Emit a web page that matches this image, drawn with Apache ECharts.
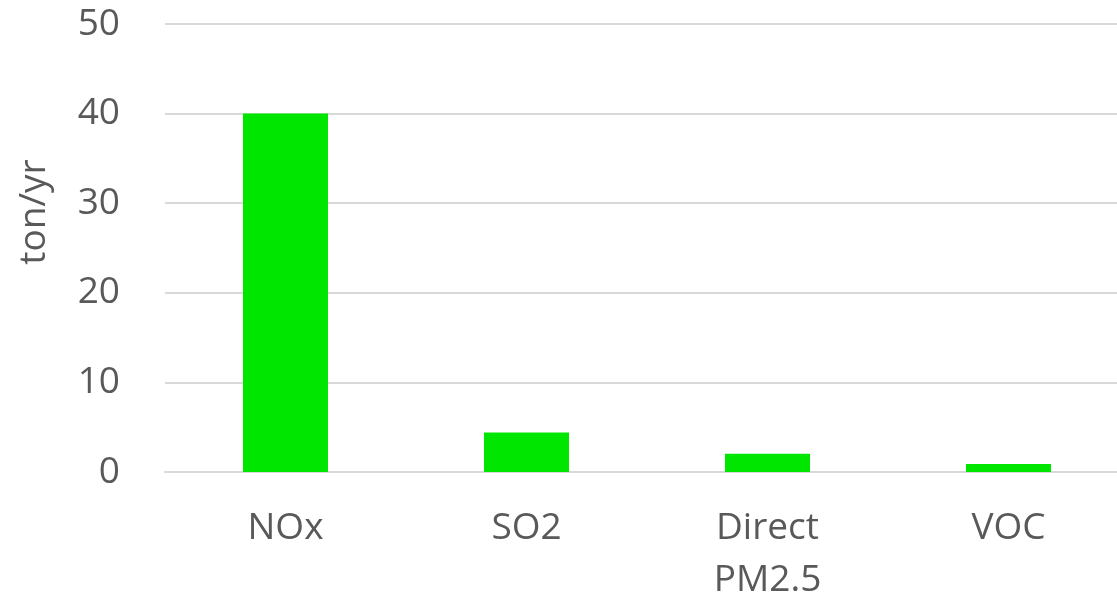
<!DOCTYPE html>
<html>
<head>
  <meta charset="UTF-8">
  <title>emissions</title>
  <style>
    html, body { margin: 0; padding: 0; background: #fff; overflow: hidden; }
    /* chart is a bit wider than the window: the last category band runs past the right edge */
    #chart { width: 1130px; height: 607px; }
  </style>
  <script src="https://cdn.jsdelivr.net/npm/echarts@6/dist/echarts.min.js"></script>
</head>
<body>
<div id="chart"></div>
<script type="text/javascript">
  const categories = ['NOx', 'SO2', 'Direct\nPM2.5', 'VOC'];
  const values = [40, 4.4, 2.05, 0.9];
  const yTicks = { min: 0, max: 50, interval: 10 };

  const textColor = '#595959';
  const font = 'Open Sans';

  const chart = echarts.init(document.getElementById('chart'));
  chart.setOption({
    animation: false,
    grid: { left: 165, top: 24, right: 1, bottom: 135 },
    xAxis: {
      type: 'category',
      data: categories,
      axisLine: { lineStyle: { color: '#d9d9d9', width: 2 } },
      axisTick: { show: false },
      axisLabel: {
        color: textColor, fontFamily: font, fontSize: 37,
        margin: 30, lineHeight: 52, verticalAlign: 'top'
      }
    },
    yAxis: {
      type: 'value',
      min: yTicks.min, max: yTicks.max, interval: yTicks.interval,
      name: 'ton/yr',
      nameLocation: 'middle',
      nameGap: 112,
      nameTextStyle: { color: textColor, fontFamily: font, fontSize: 37, padding: [0, 0, 0, 72] },
      axisLine: { show: false },
      axisTick: { show: false },
      splitLine: { lineStyle: { color: '#d9d9d9', width: 2 } },
      axisLabel: { color: textColor, fontFamily: font, fontSize: 37, margin: 45 }
    },
    series: [{
      type: 'bar',
      data: values,
      barWidth: 85,
      itemStyle: { color: '#00e600' }
    }]
  });
</script>
</body>
</html>
